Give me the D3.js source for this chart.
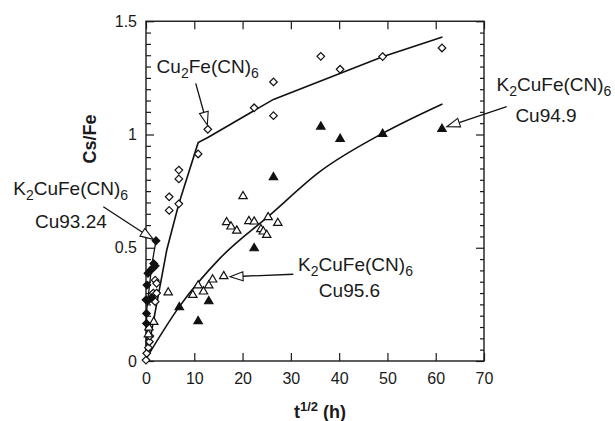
<!DOCTYPE html>
<html>
<head>
<meta charset="utf-8">
<script src="https://cdn.jsdelivr.net/npm/d3@7"></script>
<style>
  body { margin: 0; background: #fff; }
  svg text { font-family: "Liberation Sans", Arial, sans-serif; fill: #1a1a1a; }
  .tick text { font-size: 16px; }
  .anno { font-size: 19px; }
  .title { font-size: 18px; font-weight: bold; }
</style>
</head>
<body>
<script>
// data: [t^1/2 (h), Cs/Fe]
var cu2fePts = [[0,0.004],[0.15,0.034],[0.5,0.059],[0.7,0.085],[0.8,0.11],[1.5,0.30],[1.9,0.262],
  [1.9,0.357],[2.2,0.30],[2.2,0.343],[4.8,0.665],[4.8,0.725],[6.8,0.694],[6.8,0.804],[6.8,0.843],
  [10.8,0.914],[12.8,1.023],[22.4,1.118],[26.4,1.083],[26.4,1.232],[36.2,1.345],[40.2,1.288],
  [49,1.344],[61.3,1.382]];
var cu9324Pts = [[0.1,0.166],[0.1,0.21],[0,0.27],[0.6,0.27],[1.2,0.28],[0.2,0.335],
  [0.4,0.387],[0.9,0.40],[1.4,0.41],[1.9,0.42],[1.6,0.43],[2.07,0.531]];
var cu956Pts = [[0.5,0.12],[0.6,0.15],[1.6,0.175],[4.6,0.305],[9.7,0.294],[10.8,0.336],[11.9,0.309],
  [13.0,0.336],[13.8,0.362],[16.1,0.377],[16.7,0.615],[17.6,0.596],[18.8,0.578],[20.1,0.73],
  [21.3,0.62],[22.4,0.618],[23.8,0.584],[24.3,0.574],[25.0,0.559],[25.3,0.637],[27.3,0.612]];
var cu949Pts = [[6.9,0.24],[10.8,0.178],[13.0,0.266],[22.4,0.5],[26.4,0.814],[36.2,1.037],
  [40.2,0.983],[49,1.005],[61.3,1.027]];

// fitted lines
var cu2feFit = [[0,0.0],[4.3,0.49],[6.8,0.694],[10.8,0.964],[12.9,0.988],[26.4,1.155],[49,1.343],[61.4,1.43]];
var cu9324Fit = [[0,0.02],[0.1,0.12],[0.15,0.225],[1.2,0.424],[2.07,0.531]];
var k2Fit = [[0.3,0.02],[6.9,0.24],[15.3,0.453],[25.7,0.645],[36,0.836],[49,1.005],[61.4,1.135]];

var xTicks = [0,10,20,30,40,50,60,70];

// annotations: label lines, arrow from -> to (data units)
var annos = [
  {lines: [["Cu",[["2"]],"Fe(CN)",[["6"]]]], at: [2.2,1.273], from: [10.3,1.226], to: [12.7,1.042]},
  {lines: [["K",[["2"]],"CuFe(CN)",[["6"]]], ["Cu93.24"]], at: [-27.5,0.733], at2: [-23,0.586], from: [-8.84,0.681], to: [1.51,0.537]},
  {lines: [["K",[["2"]],"CuFe(CN)",[["6"]]], ["Cu95.6"]], at: [31.5,0.399], at2: [35.8,0.284], from: [30.5,0.383], to: [17.4,0.372]},
  {lines: [["K",[["2"]],"CuFe(CN)",[["6"]]], ["Cu94.9"]], at: [72.6,1.193], at2: [76.5,1.057], from: [74.7,1.123], to: [62.3,1.034]}
];

var W = 615, H = 421;
var svg = d3.select("body").append("svg")
  .attr("width", W)
  .attr("height", H);

var x = d3.scaleLinear().domain([0,70]).range([146,484]);
var y = d3.scaleLinear().domain([0,1.5]).range([361,21.25]);

// axes, ticks pointing inward
var yMinor = d3.range(0, 1.5001, 0.05).map(function(d) { return +d.toFixed(2); });
function isMajor(d) { return Math.abs(d*2 - Math.round(d*2)) < 1e-6; }

svg.append("g")
  .attr("transform", "translate(0,361)")
  .call(d3.axisBottom(x).tickValues(xTicks).tickSize(-8).tickPadding(12).tickSizeOuter(0))
  .call(function(g) { g.select(".domain").remove(); });

svg.append("g")
  .attr("transform", "translate(0,21.25)")
  .call(d3.axisTop(x).tickValues(xTicks).tickSize(-8).tickFormat("").tickSizeOuter(0))
  .call(function(g) { g.select(".domain").remove(); });

var yl = svg.append("g")
  .attr("transform", "translate(146,0)")
  .call(d3.axisLeft(y).tickValues(yMinor).tickSize(-5).tickPadding(9).tickSizeOuter(0)
    .tickFormat(function(d) { return isMajor(d) ? d3.format("")(d) : ""; }));
yl.select(".domain").remove();
yl.selectAll(".tick line").attr("x2", function(d) { return isMajor(d) ? 8 : 5; });

var yr = svg.append("g")
  .attr("transform", "translate(484,0)")
  .call(d3.axisRight(y).tickValues(yMinor).tickSize(-4).tickFormat("").tickSizeOuter(0));
yr.select(".domain").remove();
yr.selectAll(".tick line").attr("x2", function(d) { return isMajor(d) ? -8 : -4; });

svg.selectAll(".tick line").attr("stroke", "#1a1a1a").attr("stroke-width", 1.2);

svg.append("rect")
  .attr("x", 146).attr("y", 21.25)
  .attr("width", 338).attr("height", 339.75)
  .attr("fill", "none")
  .attr("stroke", "#1a1a1a")
  .attr("stroke-width", 1.4);

// axis titles
var xt = svg.append("text").attr("class", "title")
  .attr("x", 320).attr("y", 418).attr("text-anchor", "middle");
xt.append("tspan").text("t");
xt.append("tspan").attr("dy", -7).style("font-size", "13px").text("1/2");
xt.append("tspan").attr("dy", 7).text(" (h)");

svg.append("text").attr("class", "title")
  .attr("transform", "translate(96,139) rotate(-90)")
  .attr("text-anchor", "middle")
  .text("Cs/Fe");

// fitted lines
var line = d3.line().x(function(d) { return x(d[0]); }).y(function(d) { return y(d[1]); });
var plot = svg.append("g");
plot.append("path").datum(cu2feFit).attr("d", line)
  .attr("fill", "none").attr("stroke", "#111").attr("stroke-width", 1.6);
plot.append("path").datum(cu9324Fit).attr("d", line)
  .attr("fill", "none").attr("stroke", "#111").attr("stroke-width", 1.3);
plot.append("path").datum(k2Fit).attr("d", line.curve(d3.curveMonotoneX))
  .attr("fill", "none").attr("stroke", "#111").attr("stroke-width", 1.6);

// markers
var diamond = "M0,-3.8L3.8,0L0,3.8L-3.8,0Z";
var tri = "M0,-4.2L4.2,3L-4.2,3Z";

function marks(data, shape, fill) {
  plot.append("g").selectAll("path")
    .data(data)
    .enter()
    .append("path")
    .attr("d", shape)
    .attr("transform", function(d) { return "translate(" + x(d[0]) + "," + y(d[1]) + ")"; })
    .attr("fill", fill)
    .attr("stroke", "#111")
    .attr("stroke-width", 1.2);
}
marks(cu2fePts, diamond, "#fff");
marks(cu956Pts, tri, "#fff");
marks(cu949Pts, tri, "#111");
marks(cu9324Pts, diamond, "#111");

// annotations
function writeLine(sel, parts) {
  parts.forEach(function(p) {
    if (typeof p === "string") {
      sel.append("tspan").attr("dy", sel.attr("data-sub") === "1" ? -5 : 0).text(p);
      sel.attr("data-sub", "0");
    } else {
      sel.append("tspan").attr("dy", 5).style("font-size", "14px").text(p[0][0]);
      sel.attr("data-sub", "1");
    }
  });
}

annos.forEach(function(a) {
  var t1 = svg.append("text").attr("class", "anno")
    .attr("x", x(a.at[0])).attr("y", y(a.at[1]));
  writeLine(t1, a.lines[0]);
  if (a.lines[1]) {
    svg.append("text").attr("class", "anno")
      .attr("x", x(a.at2[0])).attr("y", y(a.at2[1]))
      .text(a.lines[1][0]);
  }
  var x0 = x(a.from[0]), y0 = y(a.from[1]), x1 = x(a.to[0]), y1 = y(a.to[1]);
  var ang = Math.atan2(y1 - y0, x1 - x0);
  var L = 13, hw = 4.5;
  var bx = x1 - L*Math.cos(ang), by = y1 - L*Math.sin(ang);
  svg.append("line")
    .attr("x1", x0).attr("y1", y0).attr("x2", bx).attr("y2", by)
    .attr("stroke", "#111").attr("stroke-width", 1.3);
  var px = -Math.sin(ang)*hw, py = Math.cos(ang)*hw;
  svg.append("path")
    .attr("d", "M" + x1 + "," + y1 + "L" + (bx+px) + "," + (by+py) + "L" + (bx-px) + "," + (by-py) + "Z")
    .attr("fill", "#fff").attr("stroke", "#111").attr("stroke-width", 1.1);
});
</script>
</body>
</html>
